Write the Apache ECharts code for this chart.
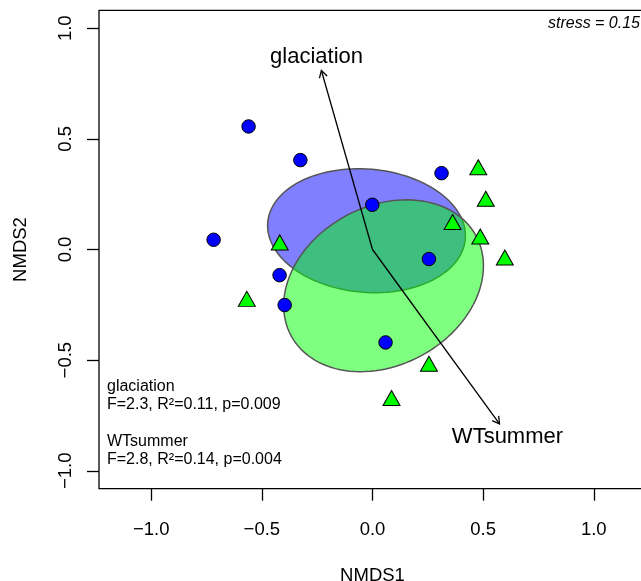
<!DOCTYPE html>
<html><head><meta charset="utf-8">
<script src="https://cdn.jsdelivr.net/npm/echarts@6/dist/echarts.min.js"></script>
<style>html,body{margin:0;padding:0;background:#fff}#c{width:641px;height:581px}</style>
</head><body><div id="c"></div>
<script>
// ---- data ----
const tickValues = [-1, -0.5, 0, 0.5, 1];
const blueX = [-0.560, -0.326, -0.718, -0.420, -0.397, -0.001, 0.312, 0.255, 0.059];
const blueY = [0.556, 0.404, 0.044, -0.116, -0.251, 0.202, 0.345, -0.043, -0.420];
const greenX = [-0.419, -0.568, 0.478, 0.512, 0.362, 0.487, 0.598, 0.255, 0.086];
const greenY = [0.032, -0.223, 0.372, 0.229, 0.124, 0.059, -0.036, -0.516, -0.671];
const vectorNames = ['glaciation', 'WTsummer'];
const vectorX = [-0.231, 0.574];
const vectorY = [0.809, -0.788];
const vectorLabelX = [-0.253, 0.61];
const vectorLabelY = [0.87, -0.846];
const ellipseCX = [-0.027, 0.050];
const ellipseCY = [0.085, -0.164];
const ellipseA = [0.448, 0.475];
const ellipseB = [0.2785, 0.359];
const ellipseAngle = [-4.8, 28.4];
const ellipseFill = ['rgba(0,0,255,0.5)', 'rgba(0,255,0,0.5)'];
const statsLines = ['glaciation', 'F=2.3, R\u00b2=0.11, p=0.009', 'WTsummer', 'F=2.8, R\u00b2=0.14, p=0.004'];
const stressText = 'stress = 0.15';

const FONT = 'Liberation Sans, Arial, sans-serif';
const fmt = v => v.toFixed(1).replace('-', '\u2212');

const chart = echarts.init(document.getElementById('c'), null, {renderer: 'canvas'});

const ellipseData = ellipseCX.map((cx, i) => [cx, ellipseCY[i], ellipseA[i], ellipseB[i], ellipseAngle[i]]);
const vectorData = vectorX.map((x, i) => [x, vectorY[i], vectorLabelX[i], vectorLabelY[i]]);

const option = {
  animation: false,
  backgroundColor: '#fff',
  grid: {left: 99, top: 10.3, width: 547, height: 478.4, show: true, borderColor: '#000', borderWidth: 1.3, backgroundColor: 'transparent', containLabel: false, outerBoundsMode: 'none'},
  xAxis: {
    type: 'value', min: -1.236, max: 1.236,
    splitLine: {show: false},
    axisLine: {show: false, onZero: false},
    axisTick: {show: true, customValues: tickValues, length: 12, inside: false, lineStyle: {color: '#000', width: 1.3}},
    axisLabel: {show: true, customValues: tickValues, formatter: fmt, color: '#000', fontSize: 18.5, fontFamily: FONT, margin: 32},
    name: 'NMDS1', nameLocation: 'middle', nameGap: 78,
    nameTextStyle: {color: '#000', fontSize: 18.5, fontFamily: FONT}
  },
  yAxis: {
    type: 'value', min: -1.081, max: 1.081,
    splitLine: {show: false},
    axisLine: {show: false, onZero: false},
    axisTick: {show: true, customValues: tickValues, length: 12, inside: false, lineStyle: {color: '#000', width: 1.3}},
    axisLabel: {show: true, customValues: tickValues, formatter: fmt, rotate: 90, color: '#000', fontSize: 18.5, fontFamily: FONT, margin: 24},
    name: 'NMDS2', nameLocation: 'middle', nameGap: 69,
    nameTextStyle: {color: '#000', fontSize: 18.5, fontFamily: FONT}
  },
  series: [
    {
      type: 'custom', z: 1,
      data: ellipseData,
      encode: {x: 0, y: 1},
      renderItem: function (params, api) {
        const cx = api.value(0), cy = api.value(1), a = api.value(2), b = api.value(3);
        const th = api.value(4) * Math.PI / 180;
        const pts = [];
        for (let k = 0; k < 120; k++) {
          const t = 2 * Math.PI * k / 120;
          const ex = a * Math.cos(t), ey = b * Math.sin(t);
          pts.push(api.coord([cx + ex * Math.cos(th) - ey * Math.sin(th), cy + ex * Math.sin(th) + ey * Math.cos(th)]));
        }
        return {type: 'polygon', shape: {points: pts},
          style: {fill: ellipseFill[params.dataIndex], stroke: '#555', lineWidth: 1.5}};
      }
    },
    {
      type: 'scatter', z: 3,
      data: blueX.map((x, i) => [x, blueY[i]]),
      symbol: 'circle', symbolSize: 13.5,
      itemStyle: {color: '#0000ff', borderColor: '#000', borderWidth: 1, opacity: 1}
    },
    {
      type: 'scatter', z: 3,
      data: greenX.map((x, i) => [x, greenY[i]]),
      symbol: 'triangle', symbolSize: [17, 15],
      itemStyle: {color: '#00ff00', borderColor: '#000', borderWidth: 1, opacity: 1}
    },
    {
      type: 'custom', z: 5,
      data: vectorData,
      encode: {x: 0, y: 1},
      renderItem: function (params, api) {
        const o = api.coord([0, 0]);
        const p = api.coord([api.value(0), api.value(1)]);
        const l = api.coord([api.value(2), api.value(3)]);
        const ang = Math.atan2(p[1] - o[1], p[0] - o[0]);
        const hl = 8, ha = Math.PI / 6;
        const h1 = [p[0] - hl * Math.cos(ang - ha), p[1] - hl * Math.sin(ang - ha)];
        const h2 = [p[0] - hl * Math.cos(ang + ha), p[1] - hl * Math.sin(ang + ha)];
        return {type: 'group', children: [
          {type: 'line', shape: {x1: o[0], y1: o[1], x2: p[0], y2: p[1]}, style: {stroke: '#000', lineWidth: 1.3}},
          {type: 'polyline', shape: {points: [h1, p, h2]}, style: {stroke: '#000', lineWidth: 1.3, fill: null}},
          {type: 'text', x: l[0], y: l[1], style: {text: vectorNames[params.dataIndex], fill: '#000', font: '22px ' + FONT, align: 'center', verticalAlign: 'middle'}}
        ]};
      }
    }
  ],
  graphic: [
    {type: 'text', right: 1, top: 16, style: {text: stressText, fill: '#000', font: 'italic 16px ' + FONT}},
    {type: 'text', left: 107, top: 379, style: {text: statsLines[0], fill: '#000', font: '16px ' + FONT}},
    {type: 'text', left: 107, top: 397, style: {text: statsLines[1], fill: '#000', font: '16px ' + FONT}},
    {type: 'text', left: 107, top: 434, style: {text: statsLines[2], fill: '#000', font: '16px ' + FONT}},
    {type: 'text', left: 107, top: 452, style: {text: statsLines[3], fill: '#000', font: '16px ' + FONT}}
  ]
};
chart.setOption(option);
</script></body></html>
